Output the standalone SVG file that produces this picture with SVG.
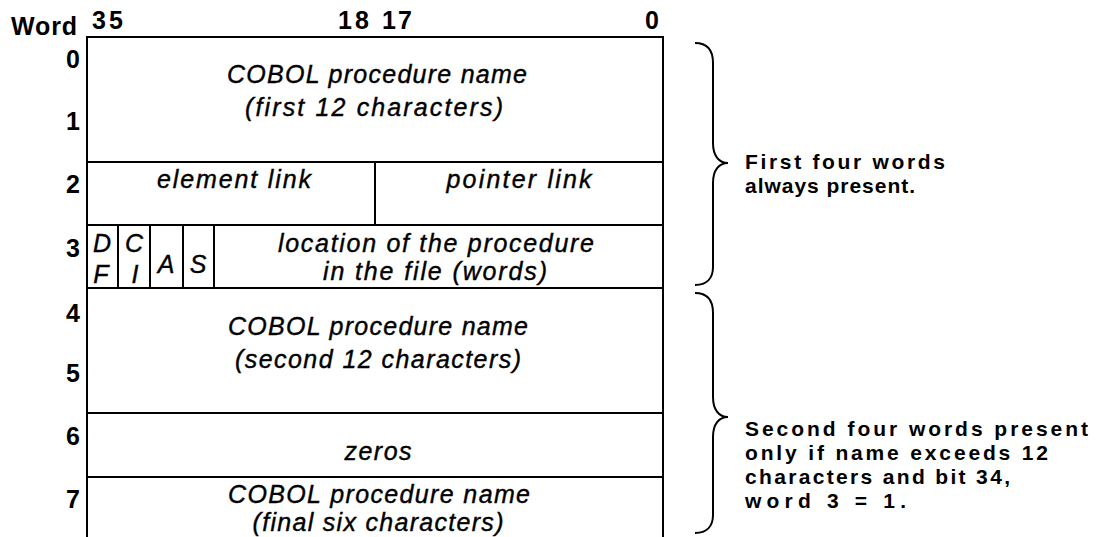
<svg xmlns="http://www.w3.org/2000/svg" width="1098" height="537" viewBox="0 0 1098 537">
<style>
  .ln { stroke: #000; stroke-width: 2; fill: none; }
  .lbl { font-family: "Liberation Sans", Arial, sans-serif; font-weight: bold; font-size: 25px; fill: #000; }
  .num { font-family: "Liberation Sans", Arial, sans-serif; font-weight: bold; font-size: 25px; fill: #000; text-anchor: end; }
  .it { font-family: "Liberation Sans", Arial, sans-serif; font-style: italic; font-size: 25px; fill: #000; text-anchor: middle; stroke: #000; stroke-width: 0.4; }
  .note { font-family: "Liberation Sans", Arial, sans-serif; font-weight: bold; font-size: 21px; fill: #000; }
</style>
<rect width="1098" height="537" fill="#fff"/>

<g id="header">
  <text class="lbl" x="11" y="35" textLength="66" lengthAdjust="spacing">Word</text>
  <text class="lbl" x="92" y="29" textLength="31" lengthAdjust="spacing">35</text>
  <text class="lbl" x="338" y="29" textLength="31" lengthAdjust="spacing">18</text>
  <text class="lbl" x="382" y="29" textLength="30" lengthAdjust="spacing">17</text>
  <text class="lbl" x="645" y="29">0</text>
</g>

<g id="word-numbers">
  <text class="num" x="80" y="68">0</text>
  <text class="num" x="80" y="130">1</text>
  <text class="num" x="80" y="193">2</text>
  <text class="num" x="80" y="257">3</text>
  <text class="num" x="80" y="322">4</text>
  <text class="num" x="80" y="382">5</text>
  <text class="num" x="80" y="445">6</text>
  <text class="num" x="80" y="508">7</text>
</g>

<g id="frame">
  <path class="ln" d="M87,537 L87,37 L663,37 L663,537"/>
</g>

<g id="words-0-1">
  <line class="ln" x1="87" y1="162" x2="663" y2="162"/>
  <text class="it" x="377" y="83" textLength="300" lengthAdjust="spacing">COBOL procedure name</text>
  <text class="it" x="374" y="116" textLength="258" lengthAdjust="spacing">(first 12 characters)</text>
</g>

<g id="word-2">
  <line class="ln" x1="87" y1="225" x2="663" y2="225"/>
  <line class="ln" x1="375" y1="162" x2="375" y2="225"/>
  <text class="it" x="234" y="188" textLength="154" lengthAdjust="spacing">element link</text>
  <text class="it" x="519" y="188" textLength="145" lengthAdjust="spacing">pointer link</text>
</g>

<g id="word-3">
  <line class="ln" x1="87" y1="288" x2="663" y2="288"/>
  <line class="ln" x1="118" y1="225" x2="118" y2="288"/>
  <line class="ln" x1="150" y1="225" x2="150" y2="288"/>
  <line class="ln" x1="183" y1="225" x2="183" y2="288"/>
  <line class="ln" x1="214" y1="225" x2="214" y2="288"/>
  <text class="it" x="102" y="252">D</text>
  <text class="it" x="101" y="283">F</text>
  <text class="it" x="134" y="252">C</text>
  <text class="it" x="135" y="283">I</text>
  <text class="it" x="166" y="273">A</text>
  <text class="it" x="198" y="273">S</text>
  <text class="it" x="436" y="252" textLength="316" lengthAdjust="spacing">location of the procedure</text>
  <text class="it" x="435" y="280" textLength="224" lengthAdjust="spacing">in the file (words)</text>
</g>

<g id="words-4-5">
  <line class="ln" x1="87" y1="413" x2="663" y2="413"/>
  <text class="it" x="378" y="335" textLength="300" lengthAdjust="spacing">COBOL procedure name</text>
  <text class="it" x="378" y="368" textLength="286" lengthAdjust="spacing">(second 12 characters)</text>
</g>

<g id="word-6">
  <line class="ln" x1="87" y1="477" x2="663" y2="477"/>
  <text class="it" x="378" y="460" textLength="67" lengthAdjust="spacing">zeros</text>
</g>

<g id="word-7">
  <text class="it" x="379" y="503" textLength="302" lengthAdjust="spacing">COBOL procedure name</text>
  <text class="it" x="378" y="531" textLength="251" lengthAdjust="spacing">(final six characters)</text>
</g>

<g id="braces">
  <path class="ln" d="M695,43 C707,43 713,50 713,63 L713,143 C713,156 719,163 728,163 C719,163 713,170 713,183 L713,267 C713,278 707,285 695,285"/>
  <path class="ln" d="M695,293 C707,293 713,300 713,313 L713,397 C713,410 719,417 728,417 C719,417 713,424 713,437 L713,515 C713,526 707,533 695,533"/>
</g>

<g id="note-first">
  <text class="note" x="745" y="169" textLength="200" lengthAdjust="spacing">First four words</text>
  <text class="note" x="745" y="193" textLength="170" lengthAdjust="spacing">always present.</text>
</g>

<g id="note-second">
  <text class="note" x="745" y="436" textLength="343" lengthAdjust="spacing">Second four words present</text>
  <text class="note" x="745" y="460" textLength="303" lengthAdjust="spacing">only if name exceeds 12</text>
  <text class="note" x="745" y="484" textLength="265" lengthAdjust="spacing">characters and bit 34,</text>
  <text class="note" x="745" y="508" textLength="161" lengthAdjust="spacing">word 3 = 1.</text>
</g>
</svg>
